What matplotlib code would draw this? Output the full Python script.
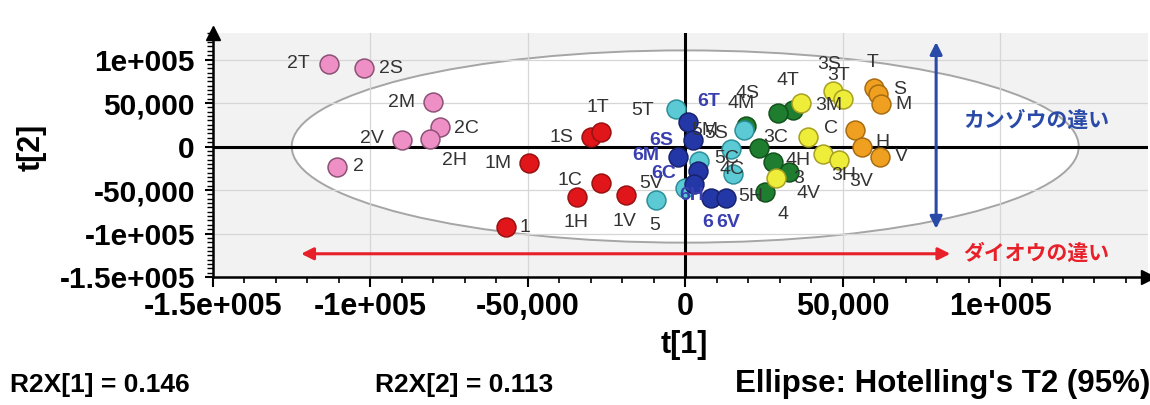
import matplotlib.pyplot as plt
from matplotlib.patches import Ellipse
from matplotlib.ticker import AutoMinorLocator

plt.rcParams['font.family'] = ['Liberation Sans', 'DejaVu Sans']

# スコアプロット (t[1] vs t[2]) の値 - 画像から読み取り
pink_names = ["2T", "2S", "2M", "2C", "2V", "2H", "2"]
pink_x = [-113000, -102000, -80000, -78000, -90000, -81000, -110500]
pink_y = [95000, 90000, 51000, 22000, 7000, 9000, -23000]

red_names = ["1M", "1S", "1T", "1C", "1H", "1V", "1"]
red_x = [-49600, -30000, -26700, -26900, -34300, -18700, -57000]
red_y = [-19000, 10800, 16600, -41500, -57800, -55800, -92700]

green_names = ["4T", "4S", "4M", "4C", "4H", "4V", "4"]
green_x = [34200, 29400, 19400, 23300, 27800, 32900, 25400]
green_y = [41900, 38000, 23300, -1700, -18300, -29100, -52300]

yellow_names = ["3S", "3T", "3M", "3C", "3H", "3V", "3"]
yellow_x = [46900, 50100, 36800, 39000, 43700, 48700, 28900]
yellow_y = [64300, 54300, 49700, 10800, -8500, -15500, -35700]

cyan_names = ["5T", "5", "5V", "5C", "5S", "5H", "5M"]
cyan_x = [-2900, -9200, -200, 4500, 14600, 15200, 18800]
cyan_y = [42700, -61100, -47300, -16300, -2700, -31800, 18600]

blue_names = ["6T", "6S", "6M", "6C", "6H", "6", "6V"]
blue_x = [900, 2400, -2300, 4000, 2900, 8300, 13000]
blue_y = [28300, 7000, -12400, -27900, -43000, -59000, -59000]

orange_names = ["T", "S", "M", "C", "H", "V"]
orange_x = [60000, 61300, 62200, 54000, 56100, 62000]
orange_y = [67500, 60500, 48900, 18600, 0, -11600]

tick_vals = [-150000, -100000, -50000, 0, 50000, 100000]
tick_text = ["-1.5e+005", "-1e+005", "-50,000", "0", "50,000", "1e+005"]

r2x = [0.146, 0.113]

# Hotelling T2 (95%) の楕円 半径
ell_a = 125000
ell_b = 110500

# ラベルの位置 (点からのずれ, pixel)
lbl_off = {
    "2T": (-31, 0), "2S": (27, 0), "2M": (-32, 0), "2C": (27, -1), "2V": (-30, 2), "2H": (24, -22), "2": (21, 0),
    "1M": (-31, 0), "1S": (-29, 0), "1T": (-3, 25), "1C": (-31, 2), "1H": (-1, -26), "1V": (-2, -26), "1": (19, 0),
    "4T": (-5, 30), "4S": (-30, 20), "4M": (-5, 23), "4C": (-27, -22), "4H": (25, 2), "4V": (20, -22), "4": (18, -22),
    "3S": (-4, 26), "3T": (-4, 24), "3M": (28, -2), "3C": (-32, 0), "3H": (21, -22), "3V": (23, -21), "3": (22, -1),
    "5T": (-33, -1), "5": (-2, -26), "5V": (-33, 4), "5C": (27, 2), "5S": (-15, 15), "5H": (18, -22), "5M": (-40, 0),
    "6T": (21, 20), "6S": (-32, 0), "6M": (-32, 2), "6C": (-34, -3), "6H": (-3, -12), "6": (-4, -25), "6V": (2, -25),
    "T": (-2, 25), "S": (21, 4), "M": (22, -1), "C": (-24, 2), "H": (21, 4), "V": (21, 0),
}

fig = plt.figure(figsize=(11.5, 4.05), dpi=100)
ax = fig.add_axes([213/1150, 1 - 277/405, (1148 - 213)/1150, (277 - 33)/405])
ax.set_facecolor('#f2f2f2')
ax.set_xlim(-150000, 147000)
ax.set_ylim(-150000, 130500)

for s in ['top', 'right']:
    ax.spines[s].set_visible(False)
for s in ['left', 'bottom']:
    ax.spines[s].set_linewidth(1.8)
ax.plot(1, 0, '>k', ms=10, transform=ax.transAxes, clip_on=False)
ax.plot(0, 1, '^k', ms=10, transform=ax.transAxes, clip_on=False)

ax.set_xticks(tick_vals)
ax.set_xticklabels(tick_text)
ax.set_yticks(tick_vals)
ax.set_yticklabels(tick_text)
ax.xaxis.set_minor_locator(AutoMinorLocator(5))
ax.yaxis.set_minor_locator(AutoMinorLocator(10))
ax.tick_params(axis='x', which='major', length=7, width=1.5, pad=4, labelsize=22)
ax.tick_params(axis='x', which='minor', length=4, width=1.2)
ax.tick_params(axis='y', which='major', length=6, width=1.5, pad=7, labelsize=21.5)
ax.tick_params(axis='y', which='minor', length=4, width=1.0)
for t in ax.get_xticklabels() + ax.get_yticklabels():
    t.set_fontweight('bold')

ax.grid(True, which='major', color='#d6d6d6', lw=0.9)
ax.set_axisbelow(True)

ell = Ellipse((0, 0), 2*ell_a, 2*ell_b, facecolor='white', edgecolor='#a5a5a5', lw=1.4, zorder=0.3)
ax.add_patch(ell)

ax.axhline(0, color='black', lw=2.2, zorder=1.5)
ax.axvline(0, color='black', lw=2.2, zorder=1.5)

groups = [
    (pink_names, pink_x, pink_y, '#ee8fc6', '#8c5275', '#333333'),
    (red_names, red_x, red_y, '#e0161b', '#9a1010', '#333333'),
    (green_names, green_x, green_y, '#1e7d2e', '#11521c', '#333333'),
    (yellow_names, yellow_x, yellow_y, '#eded3a', '#a8a020', '#333333'),
    (cyan_names, cyan_x, cyan_y, '#5ccad4', '#2b8e98', '#333333'),
    (blue_names, blue_x, blue_y, '#2437a6', '#17226e', '#3a3fb0'),
    (orange_names, orange_x, orange_y, '#f0a020', '#a86c10', '#333333'),
]

z = 3
for names, xs, ys, fc, ec, tc in groups:
    ax.scatter(xs, ys, s=185, c=fc, edgecolors=ec, linewidths=1.1, zorder=z)
    z += 0.1
    for n, x, y in zip(names, xs, ys):
        ax.annotate(n, (x, y), xytext=lbl_off[n], textcoords='offset pixels',
                    ha='center', va='center', fontsize=14, color=tc,
                    fontweight='bold' if tc != '#333333' else 'normal', zorder=5)

# 矢印と説明
ax.annotate('', xy=(79700, 123300), xytext=(79700, -97700),
            arrowprops=dict(arrowstyle='<|-|>', color='#2a4aa8', lw=2.2, mutation_scale=18), zorder=6)
ax.annotate('', xy=(85100, -123300), xytext=(-122900, -123300),
            arrowprops=dict(arrowstyle='<|-|>', color='#e8202a', lw=2.2, mutation_scale=18), zorder=6)
ax.text(88300, 30200, 'カンゾウの違い', color='#2a4aa8', fontsize=15, fontweight='bold',
        family=['Noto Sans CJK JP', 'DejaVu Sans'], va='center', ha='left', zorder=6)
ax.text(88300, -123300, 'ダイオウの違い', color='#e8202a', fontsize=15, fontweight='bold',
        family=['Noto Sans CJK JP', 'DejaVu Sans'], va='center', ha='left', zorder=6)

fig.text(684/1150, 1 - 345/405, 't[1]', ha='center', va='center', fontsize=22, fontweight='bold')
fig.text(32/1150, 1 - 147/405, 't[2]', ha='center', va='center', fontsize=22, fontweight='bold', rotation=90)

fig.text(10/1150, 1 - 385/405, 'R2X[1] = %.3f' % r2x[0], ha='left', va='center', fontsize=19, fontweight='bold')
fig.text(375/1150, 1 - 385/405, 'R2X[2] = %.3f' % r2x[1], ha='left', va='center', fontsize=19, fontweight='bold')
fig.text(735/1150, 1 - 384/405, "Ellipse: Hotelling's T2 (95%)", ha='left', va='center', fontsize=22.5, fontweight='bold')

fig.savefig('out.png', dpi=100)
